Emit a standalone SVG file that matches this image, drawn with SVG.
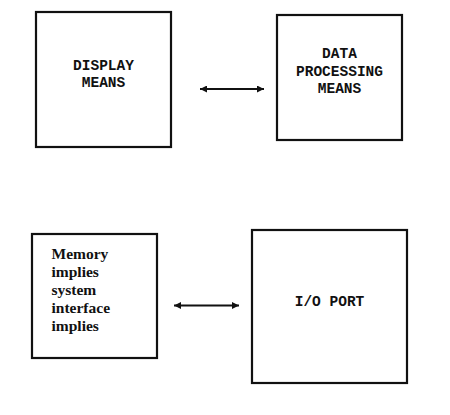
<svg xmlns="http://www.w3.org/2000/svg" width="450" height="415" viewBox="0 0 450 415">
<defs>
<style>
.box{fill:#fff;stroke:#111;stroke-width:2.2}
.mono{font-family:"Liberation Mono","Courier New",monospace;font-weight:bold;font-size:14.5px;fill:#111;text-anchor:middle}
.serif{font-family:"Liberation Serif","Times New Roman",serif;font-weight:bold;font-size:15.5px;fill:#111}
.conn{stroke:#111;stroke-width:2;fill:none}
</style>
<marker id="ah" viewBox="0 0 10 10" refX="10" refY="5" markerWidth="7" markerHeight="7" markerUnits="userSpaceOnUse" orient="auto-start-reverse">
<path d="M0,0 L10,5 L0,10 z" fill="#111"/>
</marker>
</defs>
<rect width="450" height="415" fill="#fff"/>
<g id="display-means">
<rect class="box" x="36" y="12" width="135" height="135"/>
<text class="mono" x="103.5" y="70">DISPLAY</text>
<text class="mono" x="103.5" y="87">MEANS</text>
</g>
<g id="data-processing-means">
<rect class="box" x="277" y="15" width="125" height="125"/>
<text class="mono" x="339.5" y="58">DATA</text>
<text class="mono" x="339.5" y="76">PROCESSING</text>
<text class="mono" x="339.5" y="93">MEANS</text>
</g>
<g id="memory">
<rect class="box" x="32" y="234" width="125" height="124"/>
<text class="serif" x="51.5" y="259">Memory</text>
<text class="serif" x="51.5" y="277">implies</text>
<text class="serif" x="51.5" y="295">system</text>
<text class="serif" x="51.5" y="313">interface</text>
<text class="serif" x="51.5" y="331">implies</text>
</g>
<g id="io-port">
<rect class="box" x="252" y="230" width="155" height="153"/>
<text class="mono" x="329.5" y="306">I/O PORT</text>
</g>
<g id="connectors">
<line class="conn" x1="200" y1="89" x2="264" y2="89" marker-start="url(#ah)" marker-end="url(#ah)"/>
<line class="conn" x1="174" y1="305.5" x2="239" y2="305.5" marker-start="url(#ah)" marker-end="url(#ah)"/>
</g>
</svg>
